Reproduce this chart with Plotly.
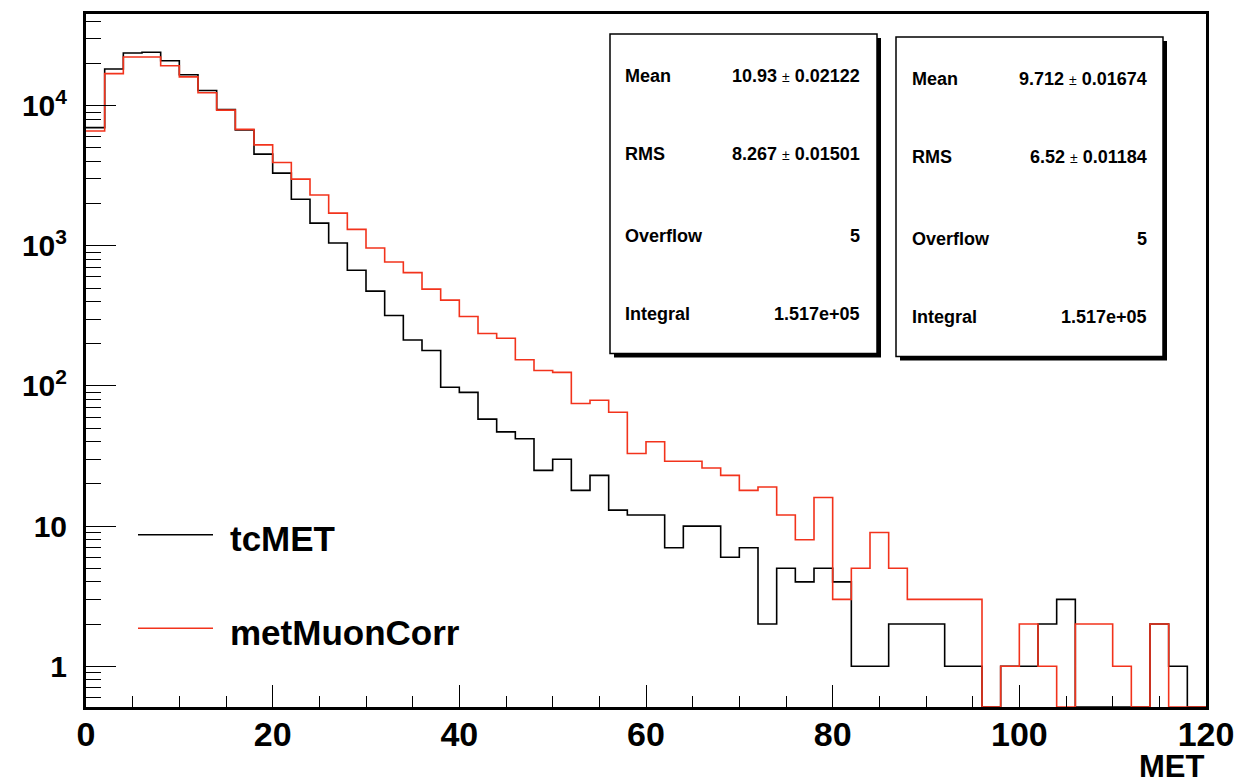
import numpy as np
import plotly.graph_objects as go

# ---------------- data ----------------
bin_edges = list(range(0, 122, 2))  # 60 bins of width 2 from 0 to 120

tcmet = [6970, 18270, 23770, 24030, 20940, 16640, 12820, 9400, 6710, 4510,
         3300, 2150, 1452, 1047, 670, 475, 318, 213, 179, 98,
         90, 58, 47, 42, 25, 30, 18, 23, 13, 12,
         12, 7, 10, 10, 6, 7, 2, 5, 4, 5,
         4, 1, 1, 2, 2, 2, 1, 1, 0, 1,
         1, 2, 3, 0, 0, 0, 0, 2, 1, 0]

metmuoncorr = [6600, 16930, 22230, 22230, 19290, 16040, 12360, 9300, 6780, 5250,
               3930, 2993, 2305, 1710, 1310, 965, 767, 644, 491, 410,
               313, 237, 219, 154, 129, 125, 75, 79, 65, 33,
               40, 29, 29, 26, 23, 18, 19, 12, 8, 16,
               3, 5, 9, 5, 3, 3, 3, 3, 0, 1,
               2, 1, 0, 2, 2, 1, 0, 2, 0, 0]

series_names = ["tcMET", "metMuonCorr"]
series_colors = ["#000000", "#f2331c"]

stats_labels = ["Mean", "RMS", "Overflow", "Integral"]
stats_tcmet = ["10.93 \u00b1 0.02122", "8.267 \u00b1 0.01501", "5", "1.517e+05"]
stats_metmuon = ["9.712 \u00b1 0.01674", "6.52 \u00b1 0.01184", "5", "1.517e+05"]

y_tickvals = [1, 10, 100, 1000, 10000]
y_ticktext = ["1", "10", "10<sup>2</sup>", "10<sup>3</sup>", "10<sup>4</sup>"]
x_tickvals = [0, 20, 40, 60, 80, 100, 120]

# ---------------- layout geometry ----------------
W, H = 1255, 783
ML, MR, MT, MB = 86, 49, 11, 76
PW, PH = W - ML - MR, H - MT - MB
ylog_range = [np.log10(0.512), np.log10(45100)]
y_floor = 10 ** ylog_range[0]

FONT = "Liberation Sans, Arial, Helvetica, sans-serif"


def px(x):
    return (x - ML) / PW


def py(y):
    return (H - MB - y) / PH


fig = go.Figure()

for vals, name, col in zip([tcmet, metmuoncorr], series_names, series_colors):
    yv = [max(v, y_floor) for v in vals]
    fig.add_trace(go.Scatter(
        x=bin_edges,
        y=yv + [yv[-1]],
        mode="lines",
        line=dict(shape="hv", color=col, width=1.6),
        name=name,
        showlegend=False,
    ))

minor_y = [k * 10 ** d for d in range(-1, 5) for k in range(2, 10)
           if 0.512 < k * 10 ** d < 45100]

fig.update_layout(
    width=W, height=H,
    margin=dict(l=ML, r=MR, t=MT, b=MB),
    paper_bgcolor="white", plot_bgcolor="white",
    font=dict(family=FONT, color="black"),
    xaxis=dict(
        range=[0, 120], tickmode="array", tickvals=x_tickvals,
        ticks="inside", ticklen=22, tickwidth=1.2, tickcolor="black",
        showgrid=False, zeroline=False,
        showline=True, linecolor="black", linewidth=3, mirror=True,
        tickfont=dict(family=FONT, size=34, color="black", weight="bold"),
        ticklabelstandoff=-5,
        minor=dict(dtick=5, tick0=0, ticks="inside", ticklen=11, tickwidth=1.2, tickcolor="black"),
    ),
    yaxis=dict(
        type="log", range=ylog_range,
        tickmode="array", tickvals=y_tickvals, ticktext=y_ticktext,
        ticks="inside", ticklen=30, tickwidth=1.2, tickcolor="black",
        showgrid=False, zeroline=False,
        showline=True, linecolor="black", linewidth=3, mirror=True,
        tickfont=dict(family=FONT, size=30, color="black", weight="bold"),
        ticklabelstandoff=10,
        minor=dict(tickmode="array", tickvals=minor_y, ticks="inside", ticklen=15,
                   tickwidth=1.2, tickcolor="black"),
    ),
)

shapes = []
annotations = []

# stat boxes
boxes = [
    dict(x0=610, x1=877, y0=31, y1=352, lx=623, rx=862, ys=[73, 152, 234, 312], vals=stats_tcmet),
    dict(x0=896, x1=1163, y0=34, y1=355, lx=910, rx=1149, ys=[76, 155, 237, 315], vals=stats_metmuon),
]
for b in boxes:
    # shadow
    shapes.append(dict(type="rect", xref="paper", yref="paper",
                       x0=px(b["x0"] + 4), x1=px(b["x1"] + 4),
                       y0=py(b["y1"] + 4), y1=py(b["y0"] + 4),
                       fillcolor="black", line=dict(width=0), layer="above"))
    shapes.append(dict(type="rect", xref="paper", yref="paper",
                       x0=px(b["x0"]), x1=px(b["x1"]),
                       y0=py(b["y1"]), y1=py(b["y0"]),
                       fillcolor="white", line=dict(color="black", width=1.5), layer="above"))
    for lab, val, yy in zip(stats_labels, b["vals"], b["ys"]):
        annotations.append(dict(xref="paper", yref="paper", x=px(b["lx"]), y=py(yy),
                                xanchor="left", yanchor="middle", showarrow=False,
                                text="<b>%s</b>" % lab,
                                font=dict(family=FONT, size=18, color="black")))
        annotations.append(dict(xref="paper", yref="paper", x=px(b["rx"]), y=py(yy),
                                xanchor="right", yanchor="middle", showarrow=False,
                                text="<b>%s</b>" % val.replace("\u00b1", "</b><span style='font-size:14px'>\u00b1</span><b>"),
                                font=dict(family=FONT, size=18, color="black")))

# legend
leg_y = [534, 628]
for name, col, yy in zip(series_names, series_colors, leg_y):
    shapes.append(dict(type="line", xref="paper", yref="paper",
                       x0=px(138), x1=px(213), y0=py(yy), y1=py(yy),
                       line=dict(color=col, width=1.5)))
    annotations.append(dict(xref="paper", yref="paper", x=px(228), y=py(yy + 4),
                            xanchor="left", yanchor="middle", showarrow=False,
                            text="<b>%s</b>" % name,
                            font=dict(family=FONT, size=35, color="black")))

# x-axis title
annotations.append(dict(xref="paper", yref="paper", x=px(1207), y=py(767),
                        xanchor="right", yanchor="middle", showarrow=False,
                        text="<b>MET</b>",
                        font=dict(family=FONT, size=31, color="black")))

fig.update_layout(shapes=shapes, annotations=annotations)

fig.write_html("out.html")
